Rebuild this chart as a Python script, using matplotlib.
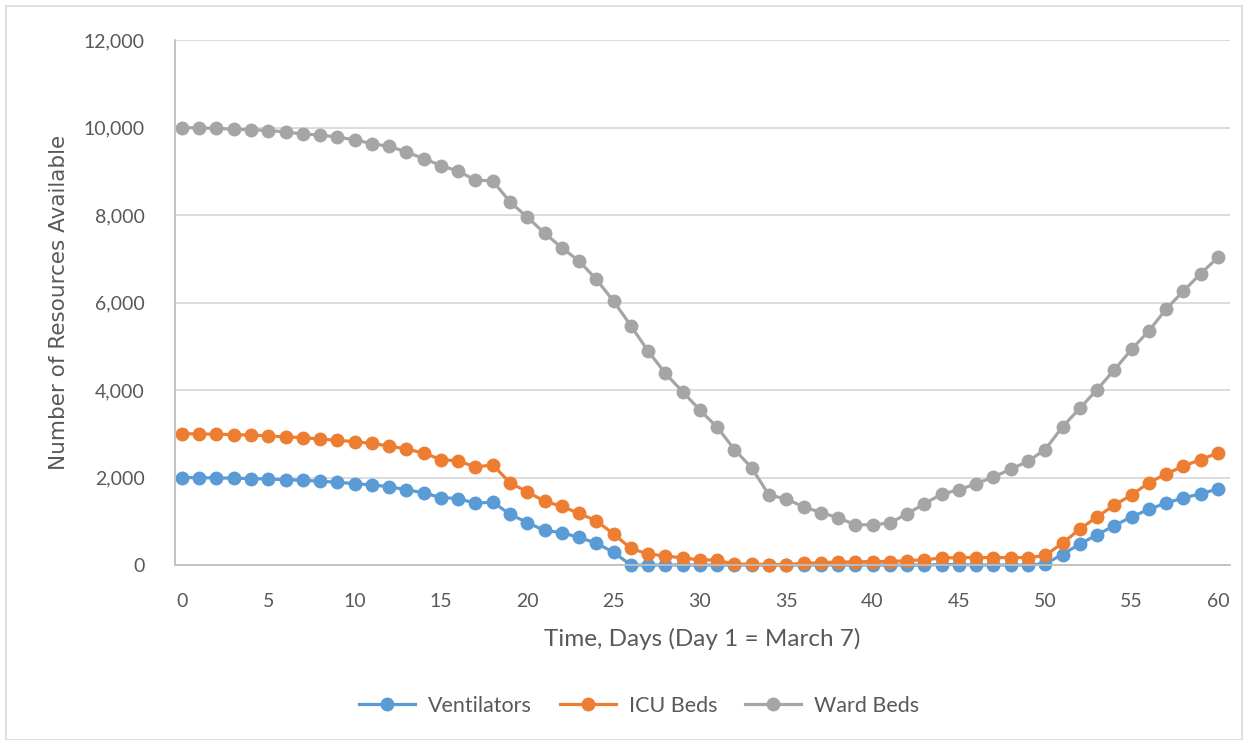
import matplotlib.pyplot as plt
from matplotlib.patches import Rectangle
from matplotlib.ticker import FuncFormatter, MultipleLocator

# Days 0..60
days = list(range(61))

ventilators = [2000, 1995, 1990, 1985, 1975, 1965, 1950, 1935, 1915, 1890,
               1860, 1830, 1790, 1720, 1650, 1540, 1520, 1410, 1440, 1160,
               970, 790, 740, 630, 500, 290, 0, 0, 0, 0,
               0, 0, 0, 0, 0, 0, 0, 0, 0, 0,
               0, 0, 0, 0, 10, 10, 0, 0, 0, 0,
               30, 240, 480, 690, 900, 1100, 1270, 1420, 1530, 1630,
               1737]

icu_beds = [3000, 2995, 2990, 2980, 2970, 2950, 2930, 2910, 2880, 2850,
            2820, 2780, 2720, 2650, 2560, 2410, 2380, 2240, 2290, 1880,
            1670, 1460, 1340, 1180, 1010, 710, 380, 250, 210, 160,
            120, 110, 20, 20, 10, 10, 40, 50, 70, 70,
            80, 80, 100, 120, 160, 170, 170, 170, 170, 170,
            220, 500, 820, 1100, 1370, 1600, 1880, 2080, 2260, 2410,
            2560]

ward_beds = [10000, 9990, 9980, 9960, 9950, 9930, 9900, 9850, 9830, 9780,
             9720, 9630, 9570, 9440, 9290, 9130, 9000, 8800, 8780, 8300,
             7950, 7590, 7250, 6950, 6530, 6030, 5470, 4890, 4380, 3960,
             3540, 3150, 2640, 2220, 1600, 1510, 1330, 1200, 1080, 920,
             920, 960, 1170, 1400, 1620, 1720, 1860, 2010, 2190, 2370,
             2640, 3160, 3580, 4010, 4460, 4930, 5350, 5850, 6260, 6660,
             7030]

series = [("Ventilators", ventilators, "#5B9BD5"),
          ("ICU Beds", icu_beds, "#ED7D31"),
          ("Ward Beds", ward_beds, "#A5A5A5")]

tick_font = "Lato"
txt_col = "#595959"

fig = plt.figure(figsize=(12.48, 7.40), dpi=100)
ax = fig.add_axes([175 / 1248, 1 - 565 / 740, (1230 - 175) / 1248, (565 - 40) / 740])

for name, vals, col in series:
    ax.plot(days, vals, color=col, linewidth=2.3, marker="o", markersize=10,
            markeredgewidth=0, label=name, clip_on=False)

ax.set_xlim(-0.4, 60.7)
ax.set_ylim(0, 12000)
ax.xaxis.set_major_locator(MultipleLocator(5))
ax.yaxis.set_major_locator(MultipleLocator(2000))
ax.yaxis.set_major_formatter(FuncFormatter(lambda v, p: f"{int(v):,}"))

# grid and spines
ax.grid(True, axis="y", color="#D9D9D9", linewidth=1.3)
ax.set_axisbelow(True)
for s in ["top", "right"]:
    ax.spines[s].set_visible(False)
for s in ["left", "bottom"]:
    ax.spines[s].set_color("#BFBFBF")
    ax.spines[s].set_linewidth(1.3)
ax.tick_params(length=0, labelsize=14, colors=txt_col)
ax.tick_params(axis="y", pad=22)
ax.tick_params(axis="x", pad=20)
for lab in ax.get_xticklabels() + ax.get_yticklabels():
    lab.set_fontfamily(tick_font)

ax.set_xlabel("Time, Days (Day 1 = March 7)", fontsize=17.5, fontfamily=tick_font,
              color=txt_col, labelpad=13)
ylab = ax.set_ylabel("Number of Resources Available", fontsize=15.5, color=txt_col,
                     labelpad=10)
ylab.set_fontfamily(["DejaVu Sans"])

leg = fig.legend(loc="center", bbox_to_anchor=(0.512, 1 - 706 / 740), ncol=3,
                 frameon=False, handlelength=2.6, columnspacing=1.3, handletextpad=0.6,
                 prop={"family": tick_font, "size": 15.5})
for t in leg.get_texts():
    t.set_color(txt_col)

# chart area border
fig.patches.append(Rectangle((6 / 1248, 0), 1 - 12 / 1248, 1 - 6 / 740,
                             transform=fig.transFigure, fill=False,
                             edgecolor="#D9D9D9", linewidth=1.2))

fig.savefig("out.png", dpi=100)
